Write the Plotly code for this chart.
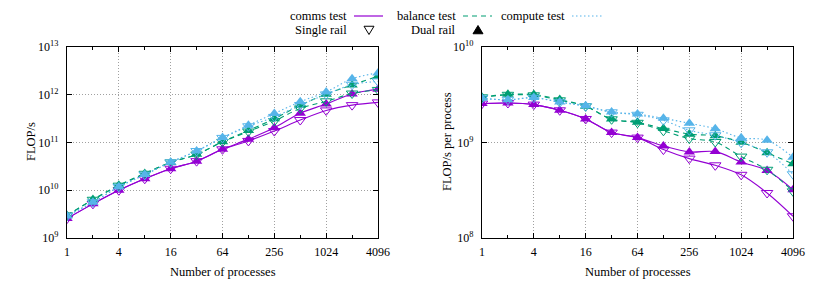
import math
import plotly.graph_objects as go

W, H = 830, 290

processes = [1, 2, 4, 8, 16, 32, 64, 128, 256, 512, 1024, 2048, 4096]

# FLOP/s per process
comms_dual = [2.555e9, 2.592e9, 2.494e9, 2.174e9, 1.763e9, 1.270e9, 1.125e9,
              9.19e8, 7.95e8, 8.03e8, 6.25e8, 5.08e8, 3.20e8]
comms_single = [2.555e9, 2.592e9, 2.494e9, 2.174e9, 1.763e9, 1.270e9, 1.125e9,
                8.43e8, 6.78e8, 5.77e8, 4.59e8, 2.96e8, 1.69e8]
balance_dual = [2.974e9, 3.197e9, 3.174e9, 2.813e9, 2.394e9, 1.763e9, 1.627e9,
                1.398e9, 1.225e9, 1.175e9, 1.005e9, 7.80e8, 5.98e8]
balance_single = [2.974e9, 3.158e9, 3.120e9, 2.766e9, 2.394e9, 1.750e9, 1.608e9,
                  1.326e9, 1.099e9, 1.012e9, 7.12e8, 5.18e8, 3.08e8]
compute_dual = [2.902e9, 2.800e9, 2.952e9, 2.656e9, 2.423e9, 2.086e9, 1.983e9,
                1.792e9, 1.589e9, 1.392e9, 1.120e9, 1.054e9, 7.00e8]
compute_single = [2.902e9, 2.800e9, 2.938e9, 2.636e9, 2.394e9, 2.071e9, 1.951e9,
                  1.708e9, 1.342e9, 1.190e9, 9.93e8, 7.90e8, 4.65e8]

x_ticks = [1, 4, 16, 64, 256, 1024, 4096]
x_minor = [2, 8, 32, 128, 512, 2048]
left_y_ticks = [1e9, 1e10, 1e11, 1e12, 1e13]
left_y_text = ["10<sup>9</sup>", "10<sup>10</sup>", "10<sup>11</sup>", "10<sup>12</sup>", "10<sup>13</sup>"]
right_y_ticks = [1e8, 1e9, 1e10]
right_y_text = ["10<sup>8</sup>", "10<sup>9</sup>", "10<sup>10</sup>"]

PURPLE = "#9400d3"
GREEN = "#009e73"
BLUE = "#56b4e9"
FONT = "Liberation Serif"
TXT = 12.5
TICK = 12

series = [
    ("comms", "single", comms_single, PURPLE, "solid"),
    ("comms", "dual", comms_dual, PURPLE, "solid"),
    ("balance", "single", balance_single, GREEN, "5px,4px"),
    ("balance", "dual", balance_dual, GREEN, "5px,4px"),
    ("compute", "single", compute_single, BLUE, "1.5px,2.5px"),
    ("compute", "dual", compute_dual, BLUE, "1.5px,2.5px"),
]

fig = go.Figure()
for test, rail, per_proc, color, dash in series:
    totals = [v * n for v, n in zip(per_proc, processes)]
    if rail == "single":
        marker = dict(symbol="triangle-down-open", size=10, color=color, line=dict(width=1, color=color))
    else:
        marker = dict(symbol="triangle-up", size=10, color=color, line=dict(width=0))
    for xa, ya, ys in (("x", "y", totals), ("x2", "y2", per_proc)):
        fig.add_trace(go.Scatter(
            x=processes, y=ys, xaxis=xa, yaxis=ya, mode="lines+markers",
            line=dict(color=color, width=1.1, dash=dash, shape="spline", smoothing=1),
            marker=marker, showlegend=False, name=f"{test} {rail}",
        ))

GRID = dict(showgrid=True, gridcolor="#a0a0a0", griddash="1px,2px", gridwidth=1)
xr = [0, math.log10(4096)]
common_x = dict(type="log", range=xr, tickvals=x_ticks, ticktext=[str(v) for v in x_ticks],
                ticks="inside", ticklen=5, tickwidth=1, tickcolor="black",
                showline=True, linecolor="black", linewidth=1.4, mirror="allticks",
                zeroline=False, automargin=False, ticklabelstandoff=2,
                minor=dict(tickvals=x_minor, ticks="inside", ticklen=3, tickcolor="black", showgrid=False),
                tickfont=dict(family=FONT, size=TICK, color="black"), **GRID)
common_y = dict(type="log", ticks="inside", ticklen=5, tickwidth=1, tickcolor="black",
                showline=True, linecolor="black", linewidth=1.4, mirror="allticks",
                zeroline=False, automargin=False, ticklabelstandoff=5,
                tickfont=dict(family=FONT, size=TICK, color="black"), **GRID)

yd = [1 - 238 / H, 1 - 47 / H]
fig.update_layout(
    width=W, height=H, margin=dict(l=0, r=0, t=0, b=0, pad=0),
    paper_bgcolor="white", plot_bgcolor="white",
    font=dict(family=FONT, size=TXT, color="black"),
    xaxis=dict(common_x, domain=[67 / W, 378 / W], anchor="y"),
    yaxis=dict(common_y, domain=yd, range=[9, 13], tickvals=left_y_ticks, ticktext=left_y_text, anchor="x"),
    xaxis2=dict(common_x, domain=[482 / W, 793 / W], anchor="y2"),
    yaxis2=dict(common_y, domain=yd, range=[8, 10], tickvals=right_y_ticks, ticktext=right_y_text, anchor="x2"),
)

def X(px):
    return px / W

def Y(py):
    return 1 - py / H

ann = []
def text(px, py, s, anchor="center", angle=0):
    ann.append(dict(x=X(px), y=Y(py), xref="paper", yref="paper", text=s, showarrow=False,
                    xanchor=anchor, yanchor="middle", textangle=angle, borderpad=0,
                    font=dict(family=FONT, size=TXT, color="black")))

text(222.5, 272, "Number of processes")
text(637.5, 272, "Number of processes")
text(31, 142, "FLOP/s", angle=-90)
text(447, 142, "FLOP/s per process", angle=-90)

# legend
text(348, 16, "comms test", "right")
text(457, 16, "balance test", "right")
text(566, 16, "compute test", "right")
text(348, 30, "Single rail", "right")
text(457, 30, "Dual rail", "right")
fig.update_layout(annotations=ann)

shapes = [
    dict(type="line", xref="paper", yref="paper", x0=X(354), x1=X(383), y0=Y(16), y1=Y(16),
         line=dict(color=PURPLE, width=1.2)),
    dict(type="line", xref="paper", yref="paper", x0=X(463), x1=X(492), y0=Y(16), y1=Y(16),
         line=dict(color=GREEN, width=1.2, dash="5px,4px")),
    dict(type="line", xref="paper", yref="paper", x0=X(572), x1=X(603), y0=Y(16), y1=Y(16),
         line=dict(color=BLUE, width=1.2, dash="1.5px,2.5px")),
]
def tri(cx, cy, s, down, fill):
    if down:
        pts = [(cx - s, cy - s * 0.75), (cx + s, cy - s * 0.75), (cx, cy + s * 0.9)]
    else:
        pts = [(cx - s, cy + s * 0.75), (cx + s, cy + s * 0.75), (cx, cy - s * 0.9)]
    path = "M " + " L ".join(f"{X(a)},{Y(b)}" for a, b in pts) + " Z"
    return dict(type="path", xref="paper", yref="paper", path=path,
                fillcolor="black" if fill else "rgba(0,0,0,0)",
                line=dict(color="black", width=1))
shapes.append(tri(369, 30, 5, True, False))
shapes.append(tri(478, 30, 5, False, True))
fig.update_layout(shapes=shapes)

fig.write_html("out.html", config={"displayModeBar": False},
               post_script="document.body.style.margin='0';document.body.style.padding='0';")
